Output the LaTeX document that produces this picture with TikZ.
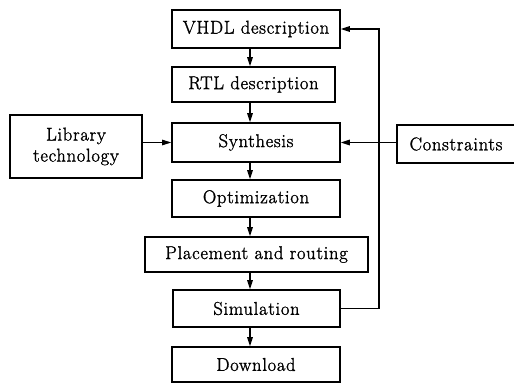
\documentclass[tikz,border=0pt]{standalone}
\usepackage{fontspec}
\usetikzlibrary{arrows.meta}
\newfontfamily\boxfam[LetterSpace=4,FakeBold=1.5]{Latin Modern Roman}
\newcommand{\boxfont}{\boxfam\fontsize{18.5}{21}\selectfont}
\begin{document}
\begin{tikzpicture}[x=1pt,y=-1pt,
  box/.style={draw, line width=1.6pt, rectangle, inner sep=0pt, align=center,
    font=\boxfont},
  arr/.style={line width=1.4pt, -{Triangle[length=9pt,width=5.5pt]}},
  thinarr/.style={line width=0.8pt, -{Triangle[length=9pt,width=5.5pt]}}]
  \useasboundingbox (0,0) rectangle (514,383);
  % main flow column
  \node[box, minimum width=168pt, minimum height=38pt] (vhdl) at (256,29) {VHDL description};
  \node[box, minimum width=163pt, minimum height=35pt] (rtl) at (253.5,84.5) {RTL description};
  \node[box, minimum width=168pt, minimum height=39pt] (syn) at (256,142.5) {Synthesis};
  \node[box, minimum width=168pt, minimum height=37pt] (opt) at (256,198.5) {Optimization};
  \node[box, minimum width=223pt, minimum height=35pt] (place) at (256.5,254.5) {Placement and routing};
  \node[box, minimum width=167pt, minimum height=37pt] (sim) at (256.5,308.5) {Simulation};
  \node[box, minimum width=168pt, minimum height=35pt] (down) at (256,364.5) {Download};
  % side inputs
  \node[box, minimum width=132pt, minimum height=63pt] (lib) at (76,146.5) {Library\\technology};
  \node[box, minimum width=118pt, minimum height=38pt] (cons) at (456,144) {Constraints};
  % arrows down the column
  \coordinate (col) at (250,0);
  \draw[arr] (vhdl.south -| col) -- (rtl.north -| col);
  \draw[arr] (rtl.south -| col) -- (syn.north -| col);
  \draw[arr] (syn.south -| col) -- (opt.north -| col);
  \draw[arr] (opt.south -| col) -- (place.north -| col);
  \draw[arr] (place.south -| col) -- (sim.north -| col);
  \draw[arr] (sim.south -| col) -- (down.north -| col);
  % inputs into synthesis
  \draw[thinarr] (lib.east |- syn.west) -- (syn.west);
  \draw[arr] (cons.west |- syn.east) -- (syn.east);
  % feedback loop from simulation
  \coordinate (loop) at (379,0);
  \draw[arr] (sim.east) -- (sim.east -| loop) -- (vhdl.east -| loop) -- (vhdl.east);
\end{tikzpicture}
\end{document}
